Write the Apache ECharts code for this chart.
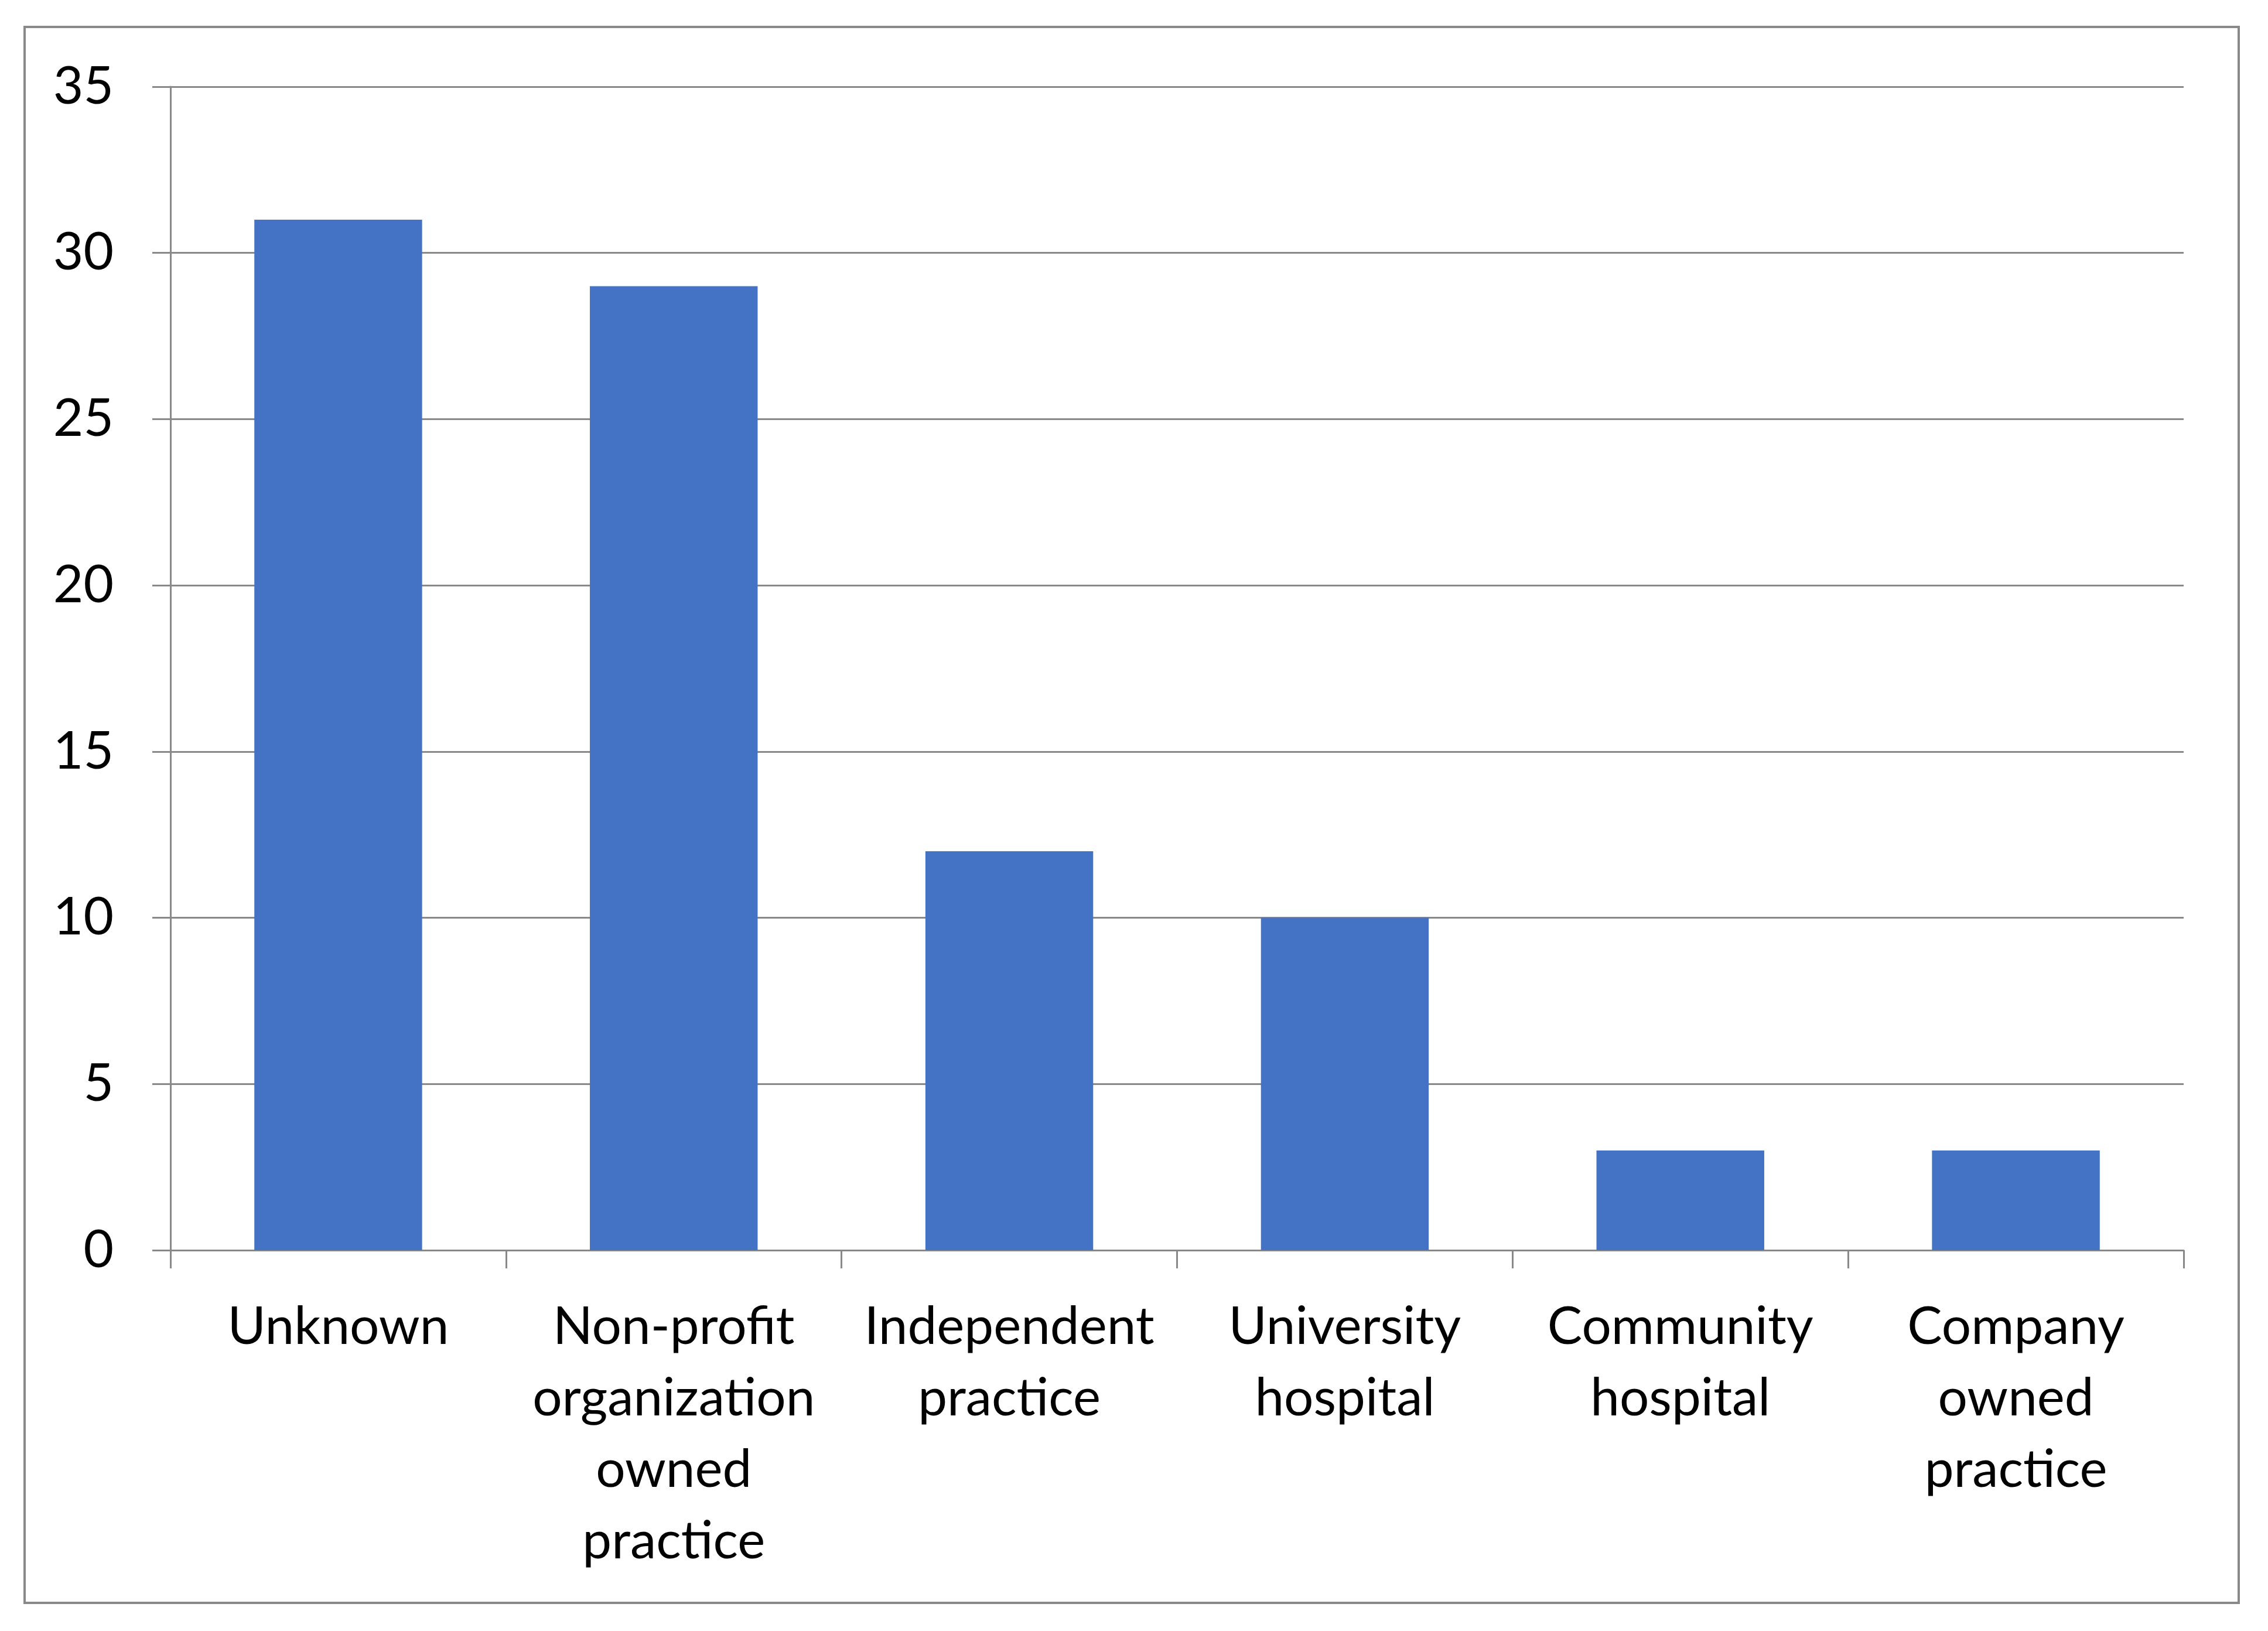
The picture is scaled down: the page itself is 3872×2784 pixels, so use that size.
<!DOCTYPE html>
<html>
<head>
<meta charset="utf-8">
<script src="https://cdn.jsdelivr.net/npm/echarts@6/dist/echarts.min.js"></script>
<style>
html,body{margin:0;padding:0;background:#fff;}
#c{width:3872px;height:2784px;}
</style>
</head>
<body>
<div id="c"></div>
<script>
const categories = ["Unknown", "Non-profit\norganization\nowned\npractice", "Independent\npractice", "University\nhospital", "Community\nhospital", "Company\nowned\npractice"];
const values = [31, 29, 12, 10, 3, 3];
const yTicks = { min: 0, max: 35, interval: 5 };

const chart = echarts.init(document.getElementById('c'), null, { renderer: 'canvas' });
const gray = '#898989';
const font = 'Lato, "Open Sans", sans-serif';
chart.setOption({
  backgroundColor: '#ffffff',
  animation: false,
  graphic: [{
    type: 'rect',
    shape: { x: 42, y: 46, width: 3780, height: 2690 },
    style: { fill: 'none', stroke: gray, lineWidth: 4 },
    silent: true
  }],
  grid: { left: 291, right: 144, top: 148, bottom: 650, containLabel: false },
  xAxis: {
    type: 'category',
    data: categories,
    axisLine: { show: true, lineStyle: { color: gray, width: 3 } },
    axisTick: { show: true, length: 31, lineStyle: { color: gray, width: 3 } },
    axisLabel: { color: '#000', fontFamily: font, fontSize: 89, lineHeight: 122, margin: 70, interval: 0, align: 'center' },
    splitLine: { show: false }
  },
  yAxis: {
    type: 'value',
    min: yTicks.min, max: yTicks.max, interval: yTicks.interval,
    axisLine: { show: true, lineStyle: { color: gray, width: 3 } },
    axisTick: { show: true, length: 31, lineStyle: { color: gray, width: 3 } },
    axisLabel: { color: '#000', fontFamily: font, fontSize: 89, margin: 97 },
    splitLine: { show: true, lineStyle: { color: gray, width: 3 } }
  },
  series: [{
    type: 'bar',
    data: values,
    barCategoryGap: '50%',
    itemStyle: { color: '#4472C4' }
  }]
});
</script>
</body>
</html>
